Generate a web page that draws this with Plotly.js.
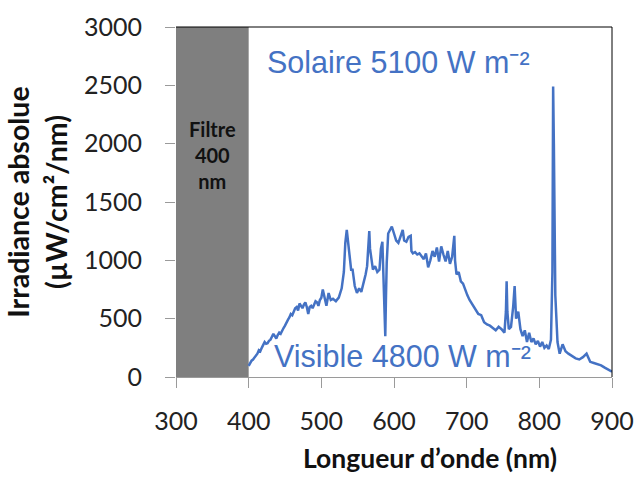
<!DOCTYPE html>
<html>
<head>
<meta charset="utf-8">
<script src="https://cdn.plot.ly/plotly-3.0.1.min.js"></script>
<style>html,body{margin:0;padding:0;background:#fff;}#chart{width:638px;height:477px;}</style>
</head>
<body>
<div id="chart"></div>
<script>
// Wavelength (nm)
const wavelength = [400,402,404,406,408,410,412,414,416,418,420,422,424,426,428,430,432,434,436,438,440,442,444,446,448,450,452,454,456,458,460,462,464,466,468,470,472,474,476,478,480,482,484,486,488,490,492,494,496,498,500,502,504,507,510,513,516,520,524,528,531,533,535,537,539,541,543,546,549,552,555,558,561,563,565,566,567,569,571,574,577,580,582,584,586,587,588,589,590,592,594,597,600,603,606,609,612,614,617,620,623,624,626,629,632,635,638,641,644,647,650,653,656,659,662,665,668,671,674,677,680,682,683,684,686,689,692,695,698,701,704,708,712,716,720,724,728,732,736,740,744,748,752,754,755,756,758,761,764,766,767,768,771,774,777,780,783,786,789,792,795,798,801,804,807,810,813,816,818,819,820,822,825,828,832,836,840,845,850,855,860,865,868,870,875,880,885,890,895,900];
// Absolute irradiance (µW/cm²/nm)
const irradiance = [95,120,140,150,165,175,200,230,220,250,270,300,285,290,310,320,345,370,350,330,360,380,370,400,420,440,470,490,510,540,530,560,590,600,570,630,610,590,620,640,600,540,600,610,590,620,650,640,610,660,680,750,700,610,720,660,670,650,680,760,900,1150,1260,1150,1000,920,920,780,720,760,730,800,880,950,1150,1250,1100,980,920,950,900,920,1100,1160,800,500,350,700,980,1230,1260,1290,1230,1170,1150,1200,1260,1170,1160,1200,1210,1080,1060,1070,1050,1060,1030,1010,1060,940,1000,1080,1030,1110,990,1120,1050,990,1080,970,1030,1200,1210,1000,880,900,820,800,740,700,660,620,570,540,530,470,450,440,420,400,430,410,380,560,820,560,410,430,600,780,640,500,560,410,350,400,300,380,300,330,280,310,260,300,250,270,240,320,900,2490,2000,700,300,200,280,220,200,180,160,150,170,200,160,130,120,110,100,80,60,45];

const xTicks = [300,400,500,600,700,800,900];
const yTicks = [0,500,1000,1500,2000,2500,3000];
const filterRange = [300,400];
const labelSolaire = 'Solaire 5100 W m⁻²';
const labelVisible = 'Visible 4800 W m⁻²';
const labelFiltre = 'Filtre<br>400<br>nm';
const xTitle = 'Longueur d’onde (nm)';
const yTitle = 'Irradiance absolue<br>(µW/cm²/nm)';

const blue = '#4472C4';
const tickFont = {family: 'Lato, "Open Sans", sans-serif', size: 25, color: '#222'};

const trace = {
  x: wavelength, y: irradiance, type: 'scatter', mode: 'lines',
  line: {color: blue, width: 2.5}, hoverinfo: 'skip', showlegend: false
};

const layout = {
  width: 638, height: 477,
  margin: {l: 176, r: 26, t: 27, b: 100},
  paper_bgcolor: '#fff', plot_bgcolor: '#fff',
  showlegend: false,
  xaxis: {
    range: [300, 900], tickvals: xTicks, ticktext: xTicks.map(String),
    showgrid: false, zeroline: false, showline: true, linecolor: '#9a9a9a', linewidth: 1,
    ticks: 'outside', ticklen: 10, tickcolor: '#9a9a9a', tickwidth: 1,
    tickfont: tickFont, ticklabelstandoff: 12, fixedrange: true
  },
  yaxis: {
    range: [0, 3000], tickvals: yTicks, ticktext: yTicks.map(String),
    showgrid: false, zeroline: false, showline: false,
    ticks: 'outside', ticklen: 10, tickcolor: '#9a9a9a', tickwidth: 1,
    tickfont: tickFont, ticklabelstandoff: 18, fixedrange: true,
    title: {text: yTitle, font: {family: 'Lato, sans-serif', size: 28.5, weight: 'bold', color: '#111'}, standoff: 8}
  },
  shapes: [
    {type: 'rect', xref: 'x', yref: 'y', x0: filterRange[0], x1: filterRange[1], y0: 0, y1: 3000,
     fillcolor: '#7f7f7f', line: {width: 0}, layer: 'below'},
    {type: 'line', xref: 'paper', yref: 'paper', x0: 0, x1: 1, y0: 1, y1: 1, line: {color: '#000', width: 1}},
    {type: 'line', xref: 'paper', yref: 'paper', x0: 1, x1: 1, y0: 0, y1: 1, line: {color: '#000', width: 1}}
  ],
  annotations: [
    {x: 350, y: 1903, xref: 'x', yref: 'y', text: labelFiltre, showarrow: false,
     font: {family: 'Lato, sans-serif', size: 20, weight: 'bold', color: '#111'}, align: 'center'},
    {x: 423, y: 2700, xref: 'x', yref: 'y', text: labelSolaire, showarrow: false, xanchor: 'left', yanchor: 'middle',
     font: {family: '"Liberation Sans", Arial, sans-serif', size: 30.5, color: blue}},
    {x: 432, y: 180, xref: 'x', yref: 'y', text: labelVisible, showarrow: false, xanchor: 'left', yanchor: 'middle',
     font: {family: '"Liberation Sans", Arial, sans-serif', size: 30.5, color: blue}},
    {x: 0.5826, y: -0.232, xref: 'paper', yref: 'paper', text: xTitle, showarrow: false, xanchor: 'center', yanchor: 'middle',
     font: {family: 'Lato, sans-serif', size: 26.5, weight: 'bold', color: '#111'}}
  ]
};

Plotly.newPlot('chart', [trace], layout, {displayModeBar: false, staticPlot: true});
</script>
</body>
</html>
